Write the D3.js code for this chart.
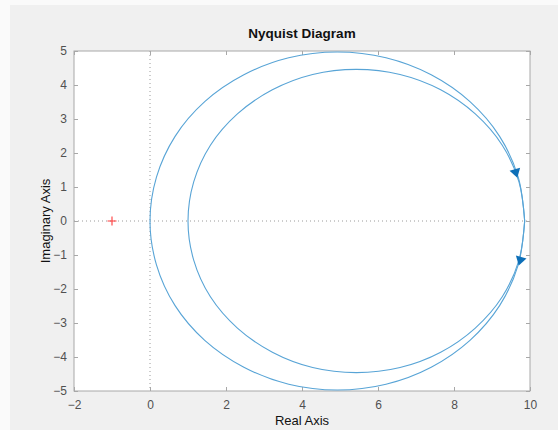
<!DOCTYPE html>
<html>
<head>
<meta charset="utf-8">
<script src="https://cdn.jsdelivr.net/npm/d3@7"></script>
<style>
    body { margin: 0; background: #fafafa; }
    svg { display: block; font-family: "Liberation Sans", Arial, sans-serif; }
</style>
</head>
<body>
<svg id="chart" width="558" height="430"></svg>
<script>
// Nyquist curves (real, imaginary), going round each loop
const outerRe = [9.86, 9.69, 9.20, 8.42, 7.40, 6.21, 4.93, 3.65, 2.47, 1.44, 0.66, 0.17, 0.00,
                 0.17, 0.66, 1.44, 2.47, 3.65, 4.93, 6.21, 7.40, 8.42, 9.20, 9.69, 9.86];
const outerIm = [0.00, 1.29, 2.49, 3.51, 4.30, 4.80, 4.97, 4.80, 4.30, 3.51, 2.49, 1.29, 0.00,
                 -1.29, -2.49, -3.51, -4.30, -4.80, -4.97, -4.80, -4.30, -3.51, -2.49, -1.29, 0.00];
const innerRe = [9.86, 9.71, 9.27, 8.56, 7.65, 6.58, 5.43, 4.28, 3.22, 2.30, 1.59, 1.15, 1.00,
                 1.15, 1.59, 2.30, 3.22, 4.28, 5.43, 6.58, 7.65, 8.56, 9.27, 9.71, 9.86];
const innerIm = [0.00, 1.15, 2.23, 3.15, 3.86, 4.31, 4.46, 4.31, 3.86, 3.15, 2.23, 1.15, 0.00,
                 -1.15, -2.23, -3.15, -3.86, -4.31, -4.46, -4.31, -3.86, -3.15, -2.23, -1.15, 0.00];

// arrow positions and the point each one heads towards
const arrowRe = [9.63, 9.74];
const arrowIm = [1.41, -1.17];
const arrowToRe = [9.76, 9.62];
const arrowToIm = [0.90, -1.65];

const xTicks = [-2, 0, 2, 4, 6, 8, 10];
const yTicks = [-5, -4, -3, -2, -1, 0, 1, 2, 3, 4, 5];

const criticalPoint = [-1, 0];

const LEFT = 74, RIGHT = 530, TOP = 51, BOTTOM = 391;
const BOX_COLOR = '#a8a8a8';
const LINE_COLOR = '#58a4d6';
const ARROW_COLOR = '#0d6fb8';

let svg = d3.select('#chart');

// figure background
svg.append('rect')
    .attr('x', 10).attr('y', 5)
    .attr('width', 548).attr('height', 425)
    .attr('fill', '#f0f0f0');

let x = d3.scaleLinear().domain([-2, 10]).range([LEFT, RIGHT]);
let y = d3.scaleLinear().domain([-5, 5]).range([BOTTOM, TOP]);

svg.append('rect')
    .attr('x', LEFT).attr('y', TOP)
    .attr('width', RIGHT - LEFT).attr('height', BOTTOM - TOP)
    .attr('fill', '#ffffff');

// dotted zero lines
svg.append('line')
    .attr('x1', x(0)).attr('x2', x(0))
    .attr('y1', TOP).attr('y2', BOTTOM)
    .attr('stroke', '#9a9a9a').attr('stroke-width', 1)
    .attr('stroke-dasharray', '1,3');
svg.append('line')
    .attr('x1', LEFT).attr('x2', RIGHT)
    .attr('y1', y(0)).attr('y2', y(0))
    .attr('stroke', '#9a9a9a').attr('stroke-width', 1)
    .attr('stroke-dasharray', '1,3');

// axes with inward ticks, on all four sides
function styleAxis(g, showText) {
    g.select('.domain').remove();
    g.selectAll('.tick line').attr('stroke', BOX_COLOR);
    g.selectAll('.tick text')
        .attr('fill', '#505050')
        .attr('font-family', '"Liberation Sans", Arial, sans-serif')
        .style('font-size', '12px')
        .style('display', showText ? null : 'none');
}

svg.append('g')
    .attr('transform', 'translate(0,' + BOTTOM + ')')
    .call(d3.axisBottom(x).tickValues(xTicks).tickSize(-4).tickPadding(9).tickFormat(d3.format('d')))
    .call(g => styleAxis(g, true));
svg.append('g')
    .attr('transform', 'translate(0,' + TOP + ')')
    .call(d3.axisTop(x).tickValues(xTicks).tickSize(-4))
    .call(g => styleAxis(g, false));
svg.append('g')
    .attr('transform', 'translate(' + LEFT + ',0)')
    .call(d3.axisLeft(y).tickValues(yTicks).tickSize(-4).tickPadding(7).tickFormat(d3.format('d')))
    .call(g => styleAxis(g, true));
svg.append('g')
    .attr('transform', 'translate(' + RIGHT + ',0)')
    .call(d3.axisRight(y).tickValues(yTicks).tickSize(-4))
    .call(g => styleAxis(g, false));

svg.append('rect')
    .attr('x', LEFT).attr('y', TOP)
    .attr('width', RIGHT - LEFT).attr('height', BOTTOM - TOP)
    .attr('fill', 'none')
    .attr('stroke', BOX_COLOR).attr('stroke-width', 1);

// curves
let line = d3.line()
    .x(d => x(d[0]))
    .y(d => y(d[1]))
    .curve(d3.curveCatmullRom.alpha(0.5));

let curves = [
    d3.zip(outerRe, outerIm),
    d3.zip(innerRe, innerIm)
];

svg.selectAll('path.nyq')
    .data(curves)
    .join('path')
    .attr('class', 'nyq')
    .attr('d', line)
    .attr('fill', 'none')
    .attr('stroke', LINE_COLOR)
    .attr('stroke-width', 1.1);

// direction arrows
svg.selectAll('path.arrow')
    .data(arrowRe.map((d, i) => i))
    .join('path')
    .attr('class', 'arrow')
    .attr('d', 'M5,0 L-4,-5.5 L-4,5.5 Z')
    .attr('transform', i => {
        let px = x(arrowRe[i]), py = y(arrowIm[i]);
        let ang = Math.atan2(y(arrowToIm[i]) - py, x(arrowToRe[i]) - px) * 180 / Math.PI;
        return 'translate(' + px + ',' + py + ') rotate(' + ang + ')';
    })
    .attr('fill', ARROW_COLOR);

// critical point marker
svg.append('path')
    .attr('d', 'M-4.5,0 H4.5 M0,-4.5 V4.5')
    .attr('transform', 'translate(' + x(criticalPoint[0]) + ',' + y(criticalPoint[1]) + ')')
    .attr('stroke', '#ff3b3b').attr('stroke-width', 1.1);

// titles
svg.append('text')
    .attr('x', (LEFT + RIGHT) / 2).attr('y', 38)
    .attr('text-anchor', 'middle')
    .style('font-size', '13.5px').style('font-weight', 'bold')
    .attr('fill', '#111111')
    .text('Nyquist Diagram');

svg.append('text')
    .attr('x', (LEFT + RIGHT) / 2).attr('y', 425)
    .attr('text-anchor', 'middle')
    .style('font-size', '13px')
    .attr('fill', '#111111')
    .text('Real Axis');

svg.append('text')
    .attr('transform', 'translate(50,' + (TOP + BOTTOM) / 2 + ') rotate(-90)')
    .attr('text-anchor', 'middle')
    .style('font-size', '13px')
    .attr('fill', '#111111')
    .text('Imaginary Axis');
</script>
</body>
</html>
